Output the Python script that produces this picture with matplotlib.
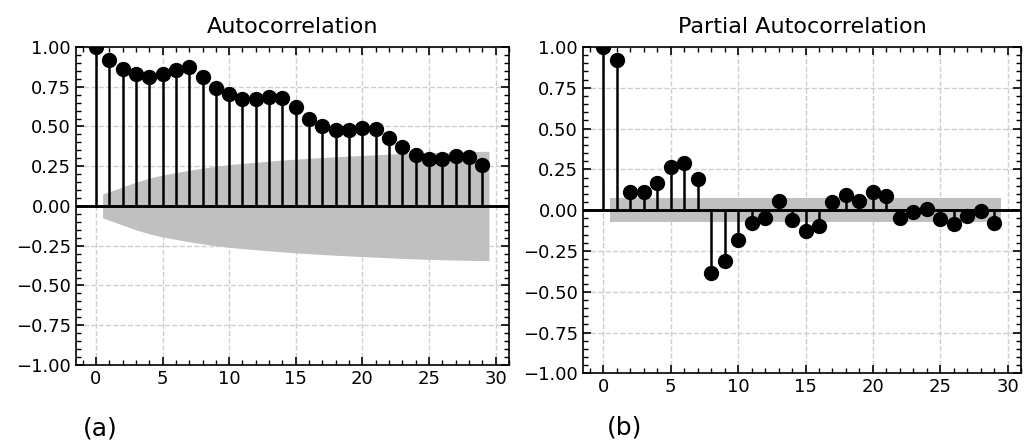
import numpy as np
import matplotlib
matplotlib.use("Agg")
import matplotlib.pyplot as plt
from matplotlib.ticker import MultipleLocator, FuncFormatter

# lags 0..29
lags = np.arange(30)

acf_vals = [1.00, 0.92, 0.86, 0.83, 0.81, 0.83, 0.855, 0.875, 0.81, 0.745,
            0.705, 0.67, 0.67, 0.685, 0.678, 0.62, 0.55, 0.50, 0.475, 0.475,
            0.493, 0.483, 0.43, 0.37, 0.322, 0.298, 0.296, 0.312, 0.306, 0.255]

# half-width of the ACF confidence band for lags 1..29
acf_band = [0.075, 0.12, 0.15, 0.175, 0.195, 0.21, 0.225, 0.238, 0.25, 0.26,
            0.268, 0.275, 0.282, 0.289, 0.295, 0.30, 0.305, 0.31, 0.314, 0.318,
            0.322, 0.326, 0.33, 0.333, 0.336, 0.338, 0.34, 0.342, 0.344]

pacf_vals = [1.00, 0.918, 0.11, 0.11, 0.168, 0.266, 0.287, 0.19, -0.383, -0.311,
             -0.18, -0.078, -0.047, 0.057, -0.061, -0.127, -0.098, 0.047, 0.092, 0.053,
             0.113, 0.088, -0.051, -0.014, 0.006, -0.055, -0.086, -0.035, -0.006, -0.076]

pacf_band = 0.072

plt.rcParams["font.family"] = "DejaVu Sans"


def fmt_y(v, pos):
    return ("%.2f" % v).replace("-", "\u2212")


def style_axes(ax):
    ax.set_xlim(-1.5, 31)
    ax.set_ylim(-1.0, 1.0)
    ax.xaxis.set_major_locator(MultipleLocator(5))
    ax.xaxis.set_minor_locator(MultipleLocator(1))
    ax.yaxis.set_major_locator(MultipleLocator(0.25))
    ax.yaxis.set_minor_locator(MultipleLocator(0.05))
    ax.yaxis.set_major_formatter(FuncFormatter(fmt_y))
    ax.tick_params(which="both", direction="in", top=True, right=True)
    ax.tick_params(which="major", length=6, width=1.2)
    ax.tick_params(which="minor", length=3.5, width=1.0)
    ax.tick_params(axis="both", labelsize=13)
    ax.grid(True, which="major", linestyle="--", color="#cfcfcf", linewidth=1.0)
    ax.set_axisbelow(True)
    for sp in ax.spines.values():
        sp.set_linewidth(1.2)


def stem(ax, vals):
    ax.vlines(lags, 0, vals, color="black", linewidth=1.8, zorder=3)
    ax.plot(lags, vals, "o", color="black", markersize=10, zorder=4)
    ax.axhline(0, color="black", linewidth=2.1, zorder=3)


fig = plt.figure(figsize=(10.24, 4.4), dpi=100)
ax1 = fig.add_axes([0.0742, 0.1705, 0.4228, 0.7227])
ax2 = fig.add_axes([0.5693, 0.1516, 0.4281, 0.7416])

# left: autocorrelation
style_axes(ax1)
band_x = lags[1:].astype(float)
band_x[0] -= 0.5
band_x[-1] += 0.5
ax1.fill_between(band_x, -np.array(acf_band), acf_band, color="#c0c0c0", linewidth=0, zorder=2)
stem(ax1, acf_vals)
ax1.set_title("Autocorrelation", fontsize=16, pad=10)

# right: partial autocorrelation
style_axes(ax2)
ax2.fill_between(band_x, -pacf_band, pacf_band, color="#c0c0c0", linewidth=0, zorder=2)
stem(ax2, pacf_vals)
ax2.set_title("Partial Autocorrelation", fontsize=16, pad=10)

fig.text(100 / 1024, 1 - 428 / 440, "(a)", fontsize=18, ha="center", va="center")
fig.text(625 / 1024, 1 - 427 / 440, "(b)", fontsize=18, ha="center", va="center")

fig.savefig("out.png", dpi=100)
